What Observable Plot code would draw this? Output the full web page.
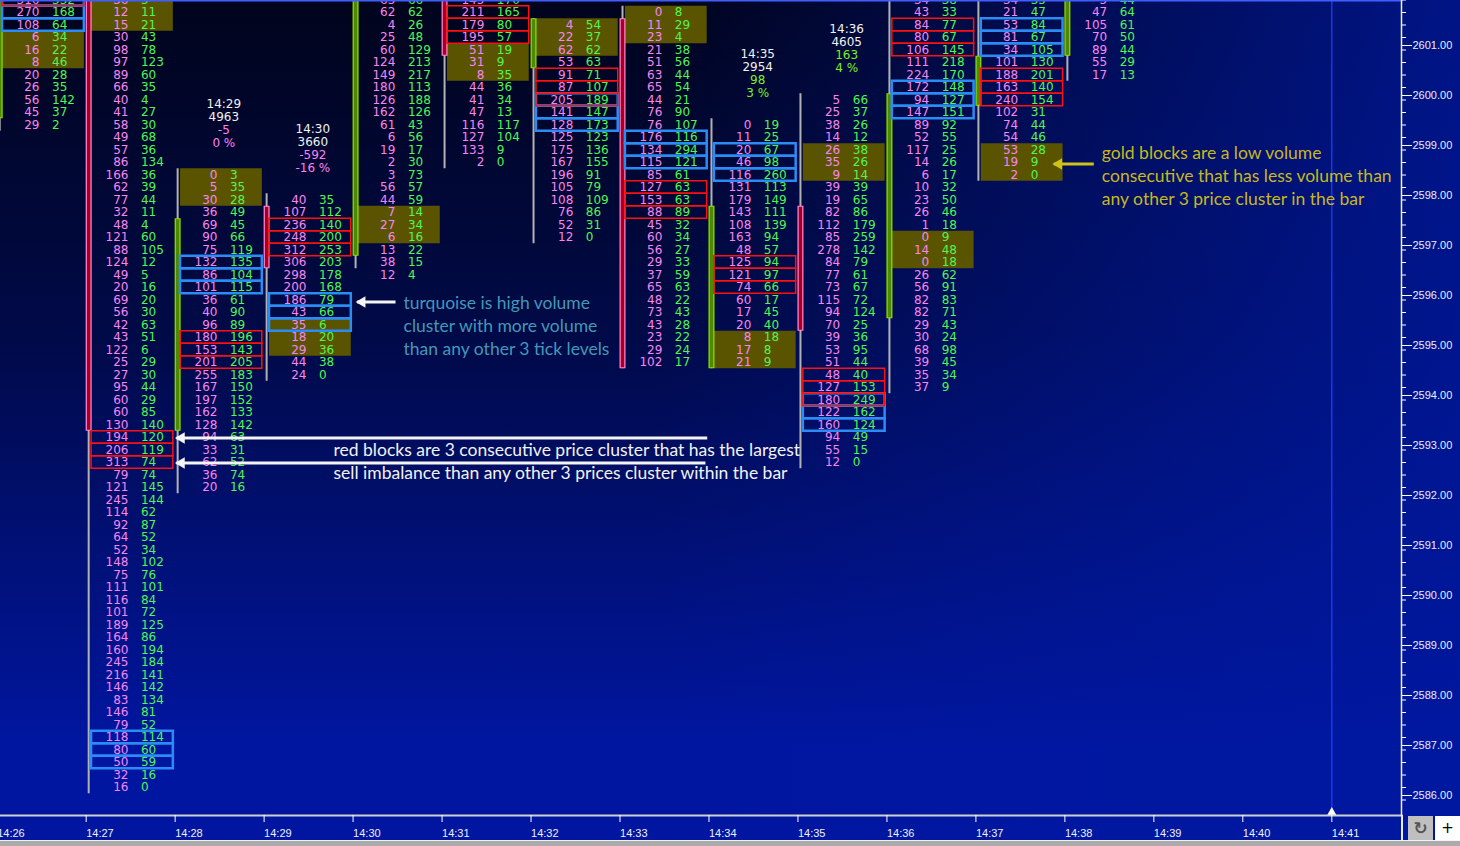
<!DOCTYPE html>
<html>
<head>
<meta charset="utf-8">
<script src="https://cdn.jsdelivr.net/npm/d3@7"></script>
<script src="https://cdn.jsdelivr.net/npm/@observablehq/plot@0.6"></script>
<style>
  html, body { margin: 0; padding: 0; background: #0018a0; overflow: hidden; }
  #wrap { position: relative; width: 1460px; height: 846px; overflow: hidden; }
  #chart svg { display: block; }
  .ov { position: absolute; box-sizing: border-box; }
</style>
</head>
<body>
<div id="wrap">
  <div id="chart"></div>
  <div class="ov" style="left:1401px;top:815px;width:2px;height:26px;background:#e8e8e8"></div>
  <div class="ov" style="left:1408px;top:816px;width:25px;height:24px;background:#bfbfbf;color:#555;font:bold 17px 'DejaVu Sans';text-align:center;line-height:24px">↻</div>
  <div class="ov" style="left:1435px;top:816px;width:25px;height:24px;background:#ffffff;color:#000;font:15px 'DejaVu Sans';text-align:center;line-height:24px">+</div>
  <div class="ov" style="left:0;top:840px;width:1460px;height:6px;background:#ababab;border-top:1px solid #f2f2f2"></div>
</div>
<script>
// ---------- bars (one per minute, 14:26 .. 14:38) ----------
const barMinutes = [26, 27, 28, 29, 30, 31, 32, 33, 34, 35, 36, 37, 38];
const barTop   = [2602.00, 2602.00, 2598.50, 2598.00, 2602.00, 2602.00, 2601.50, 2601.75, 2599.50, 2600.00, 2602.00, 2602.00, 2602.00];
const barOpen  = [2599.75, 2602.50, 2593.50, 2597.75, 2597.00, 2602.50, 2600.75, 2601.50, 2594.75, 2597.75, 2595.75, 2600.00, 2601.00];
const barHigh  = [2602.50, 2602.50, 2598.50, 2598.00, 2602.50, 2602.50, 2601.50, 2601.75, 2599.50, 2600.00, 2602.50, 2602.50, 2602.50];
const barLow   = [2599.50, 2586.25, 2592.25, 2594.50, 2596.75, 2598.75, 2597.25, 2594.75, 2594.75, 2592.75, 2594.25, 2598.50, 2600.50];
const barClose = [2602.50, 2593.50, 2597.50, 2596.75, 2602.50, 2601.00, 2601.50, 2594.75, 2597.75, 2595.50, 2600.00, 2600.75, 2602.50];

// ---------- footprint: bid x ask per price level, from each bar's top price downward ----------
const bid26 = [316, 270, 108, 6, 16, 8, 20, 26, 56, 45, 29];
const ask26 = [332, 168, 64, 34, 22, 46, 28, 35, 142, 37, 2];
const bid27 = [36,12,15,30,98,97,89,66,40,41,58,49,57,86,166,62,77,32,48,121,88,124,49,20,69,56,42,43,122,25,27,95,60,60,130,194,206,313,79,121,245,114,92,64,52,148,75,111,116,101,189,164,160,245,216,146,83,146,79,118,80,50,32,16];
const ask27 = [5,11,21,43,78,123,60,35,4,27,30,68,36,134,36,39,44,11,4,60,105,12,5,16,20,30,63,51,6,29,30,44,29,85,140,120,119,74,74,145,144,62,87,52,34,102,76,101,84,72,125,86,194,184,141,142,134,81,52,114,60,59,16,0];
const bid28 = [0,5,30,36,69,90,75,132,86,101,36,40,96,180,153,201,255,167,197,162,128,94,33,62,36,20];
const ask28 = [3,35,28,49,45,66,119,135,104,115,61,90,89,196,143,205,183,150,152,133,142,63,31,52,74,16];
const bid29 = [40,107,236,248,312,306,298,200,186,43,35,18,29,44,24];
const ask29 = [35,112,140,200,253,203,178,168,79,66,6,20,36,38,0];
const bid30 = [65,62,4,25,60,124,149,180,126,162,61,6,19,2,3,56,44,7,27,6,13,38,12];
const ask30 = [66,62,26,48,129,213,217,113,188,126,43,56,17,30,73,57,59,14,34,16,22,15,4];
const bid31 = [145,211,179,195,51,31,8,44,41,47,116,127,133,2];
const ask31 = [170,165,80,57,19,9,35,36,34,13,117,104,9,0];
const bid32 = [4,22,62,53,91,87,205,141,128,125,175,167,196,105,108,76,52,12];
const ask32 = [54,37,62,63,71,107,189,147,173,123,136,155,91,79,109,86,31,0];
const bid33 = [0,11,23,21,51,63,65,44,76,76,176,134,115,85,127,153,88,45,60,56,29,37,65,48,73,43,23,29,102];
const ask33 = [8,29,4,38,56,44,54,21,90,107,116,294,121,61,63,63,89,32,34,27,33,59,63,22,43,28,22,24,17];
const bid34 = [0,11,20,46,116,131,179,143,108,163,48,125,121,74,60,17,20,8,17,21];
const ask34 = [19,25,67,98,260,113,149,111,139,94,57,94,97,66,17,45,40,18,8,9];
const bid35 = [5,25,38,14,26,35,9,39,19,82,112,85,278,84,77,73,115,94,70,39,53,51,48,127,180,122,160,94,55,12];
const ask35 = [66,37,26,12,38,26,14,39,65,86,179,259,142,79,61,67,72,124,25,36,95,44,40,153,249,162,124,49,15,0];
const bid36 = [34,43,84,80,106,111,224,172,94,147,89,52,117,14,6,10,23,26,1,0,14,0,26,56,82,82,29,30,68,39,35,37];
const ask36 = [38,33,77,67,145,218,170,148,127,151,92,55,25,26,17,32,50,46,18,9,48,18,62,91,83,71,43,24,98,45,34,9];
const bid37 = [34,21,53,81,34,101,188,163,240,102,74,54,53,19,2];
const ask37 = [35,47,84,67,105,130,201,140,154,31,44,46,28,9,0];
const bid38 = [5,47,105,70,89,55,17];
const ask38 = [44,64,61,50,44,29,13];

// ---------- 3-level clusters (top price of each cluster) ----------
const goldMin = [26, 27, 28, 29, 30, 31, 32, 33, 34, 35, 36, 37];
const goldTop = [2601.25, 2602.00, 2598.50, 2595.50, 2597.75, 2601.00, 2601.50, 2601.75, 2595.25, 2599.00, 2597.25, 2599.00];
const blueMin = [26, 27, 28, 29, 32, 33, 34, 35, 36, 37];
const blueTop = [2602.00, 2587.25, 2596.75, 2596.00, 2600.00, 2599.25, 2599.00, 2594.00, 2600.25, 2601.50];
const redMin  = [26, 27, 28, 29, 31, 32, 33, 34, 35, 36, 37];
const redTop  = [2602.50, 2593.25, 2595.25, 2597.50, 2601.75, 2600.50, 2598.25, 2596.75, 2594.50, 2601.50, 2600.50];

// ---------- bar summary headers ----------
const hdrMin    = [28, 29, 34, 35];
const hdrTime   = ["14:29", "14:30", "14:35", "14:36"];
const hdrVolume = [4963, 3660, 2954, 4605];
const hdrDelta  = [-5, -592, 98, 163];
const hdrPct    = [0, -16, 3, 4];

// ---------- axis ticks ----------
const priceTicks  = [2586, 2587, 2588, 2589, 2590, 2591, 2592, 2593, 2594, 2595, 2596, 2597, 2598, 2599, 2600, 2601];
const minuteTicks = [26, 27, 28, 29, 30, 31, 32, 33, 34, 35, 36, 37, 38, 39, 40, 41];
const nowMinute = [41];

// ---------- annotations ----------
const annoArrows = [
  {x1: 30.477, x2: 30.046, y: 2595.96, color: "#f4f4f4"},
  {x1: 33.98,  x2: 28.015, y: 2593.24, color: "#f4f4f4"},
  {x1: 33.96,  x2: 28.015, y: 2592.74, color: "#f4f4f4"},
  {x1: 38.325, x2: 37.876, y: 2598.72, color: "#cfc21a"}
];
const annoTexts = [
  {x: 30.567, y: 2595.51, color: "#4597b8",
   text: "turquoise is high volume\ncluster with more volume\nthan any other 3 tick levels"},
  {x: 29.78, y: 2592.79, color: "#f2f2f2",
   text: "red blocks are 3 consecutive price cluster that has the largest\nsell imbalance than any other 3 prices cluster within the bar"},
  {x: 38.415, y: 2598.50, color: "#c6b81e",
   text: "gold blocks are a low volume\nconsecutive that has less volume than\nany other 3 price cluster in the bar"}
];

// ---------- build tables ----------
const TICK = 0.25;
const bidLists = [bid26, bid27, bid28, bid29, bid30, bid31, bid32, bid33, bid34, bid35, bid36, bid37, bid38];
const askLists = [ask26, ask27, ask28, ask29, ask30, ask31, ask32, ask33, ask34, ask35, ask36, ask37, ask38];
const rows = barMinutes.flatMap((t, j) =>
  bidLists[j].map((b, i) => ({t, price: barTop[j] - TICK * i, bid: b, ask: askLists[j][i]})));

const candles = barMinutes.map((t, j) => ({
  t, open: barOpen[j], high: barHigh[j], low: barLow[j], close: barClose[j],
  up: barClose[j] >= barOpen[j]
}));

const goldRects = goldMin.map((t, j) => ({t, y1: goldTop[j] + TICK / 2, y2: goldTop[j] - 2.5 * TICK}));
const rowBoxes = (mins, tops) => mins.flatMap((t, j) => [0, 1, 2].map(r =>
  ({t, y1: tops[j] - r * TICK + TICK / 2, y2: tops[j] - r * TICK - TICK / 2})));
const blueRects = rowBoxes(blueMin, blueTop);
const redRects = rowBoxes(redMin, redTop);

const headers = hdrMin.map((t, j) => ({
  t, price: barTop[barMinutes.indexOf(t)],
  time: hdrTime[j], vol: String(hdrVolume[j]), delta: String(hdrDelta[j]), pct: hdrPct[j] + " %",
  col: hdrDelta[j] > 0 ? "#7cf01e" : "#ff80f2"
}));

const PINK = "#f985f2", GREEN = "#52f552";
const cellFont = {fontFamily: "DejaVu Sans", fontSize: 12};
const box = {x1: "t", x2: d => d.t + 1, y1: "y1", y2: "y2", insetLeft: 5.4, insetRight: 1.8};

const chart = Plot.plot({
  width: 1460,
  height: 846,
  marginTop: 0, marginLeft: 0, marginRight: 59, marginBottom: 31,
  x: {domain: [26, 41], range: [-3.3, 1331.3]},
  y: {domain: [2602, 2586], range: [-0.5, 799.5]},
  color: {type: "identity"},
  style: {
    background: "linear-gradient(to right, rgba(0,24,160,0) 45%, rgba(0,24,160,0.8) 100%), linear-gradient(to bottom, #00041c 0%, #000a48 40%, #0016a0 88%)",
    color: "white",
    fontFamily: "DejaVu Sans",
    overflow: "hidden"
  },
  marks: [
    // cluster backgrounds
    Plot.rect(goldRects, {...box, fill: "#5a5400"}),
    // candles
    Plot.ruleX(candles, {x: "t", y1: d => d.high + TICK / 2, y2: d => d.low - TICK / 2, dx: 2.5, stroke: "#b2b2b2", strokeWidth: 2}),
    Plot.ruleX(candles, {x: "t", y1: d => Math.max(d.open, d.close) + TICK / 2, y2: d => Math.min(d.open, d.close) - TICK / 2,
      dx: 2.5, stroke: d => d.up ? "#8fdc00" : "#ff86d6", strokeWidth: 6}),
    Plot.ruleX(candles, {x: "t", y1: d => Math.max(d.open, d.close) + TICK / 2, y2: d => Math.min(d.open, d.close) - TICK / 2,
      dx: 2.5, insetTop: 1, insetBottom: 1, stroke: d => d.up ? "#4e8a00" : "#a8001c", strokeWidth: 3.5}),
    // cluster outlines
    Plot.rect(blueRects, {...box, fill: "none", stroke: "#2b8cf5", strokeWidth: 2.5}),
    Plot.rect(redRects, {...box, fill: "none", stroke: "#ff1010", strokeWidth: 1.5}),
    // footprint numbers
    Plot.text(rows, {x: "t", y: "price", text: "bid", textAnchor: "end", dx: 42.3, fill: PINK, ...cellFont}),
    Plot.text(rows, {x: "t", y: "price", text: "ask", textAnchor: "start", dx: 54.8, fill: GREEN, ...cellFont}),
    // headers
    Plot.text(headers, {x: "t", y: "price", text: "time", dx: 48.7, dy: -70.4, fill: "#f2f2f2", ...cellFont}),
    Plot.text(headers, {x: "t", y: "price", text: "vol", dx: 48.7, dy: -57.6, fill: "#f2f2f2", ...cellFont}),
    Plot.text(headers, {x: "t", y: "price", text: "delta", dx: 48.7, dy: -44.8, fill: "col", ...cellFont}),
    Plot.text(headers, {x: "t", y: "price", text: "pct", dx: 48.7, dy: -32, fill: "col", ...cellFont}),
    // current time line
    Plot.ruleX(nowMinute, {x: d => d, stroke: "#1c3dff", strokeWidth: 1.3}),
    Plot.dot(nowMinute, {x: d => d, frameAnchor: "bottom", symbol: "triangle", r: 3.5, fill: "white", dy: -3}),
    // annotations
    Plot.link(annoArrows, {x1: "x1", x2: "x2", y1: "y", y2: "y", stroke: "color", strokeWidth: 3}),
    Plot.dot(annoArrows, {x: "x2", y: "y", symbol: "triangle", r: 4.2, rotate: -90, dx: 5, fill: "color"}),
    Plot.text(annoTexts, {x: "x", y: "y", text: "text", fill: "color", textAnchor: "start", lineAnchor: "middle",
      lineHeight: 1.314, fontFamily: "Lato", fontSize: 17.5}),
    // frame edges
    Plot.frame({anchor: "top", stroke: "#3e5eff", strokeWidth: 2}),
    Plot.frame({anchor: "bottom", stroke: "#cfcfcf", strokeWidth: 2}),
    Plot.frame({anchor: "right", stroke: "#eeeeee", strokeWidth: 1.5}),
    // axes
    Plot.axisY({anchor: "right", ticks: d3.range(2586, 2602.01, 0.25), tickSize: 4, tickFormat: () => "", label: null, stroke: "#ffffff"}),
    Plot.axisY({anchor: "right", ticks: priceTicks, tickSize: 10, tickPadding: 1, tickFormat: d => d.toFixed(2),
      dy: -4.5, fontSize: 11, fontFamily: "Liberation Sans", label: null, fill: "#e8eeff", stroke: "#ffffff"}),
    Plot.axisX({anchor: "bottom", ticks: minuteTicks, tickSize: 7, tickPadding: 7, tickFormat: d => "14:" + d,
      textAnchor: "start", fontSize: 11, fontFamily: "Liberation Sans", label: null, fill: "#f0f0f0", stroke: "#ffffff"})
  ]
});
document.getElementById("chart").appendChild(chart);
</script>
</body>
</html>
